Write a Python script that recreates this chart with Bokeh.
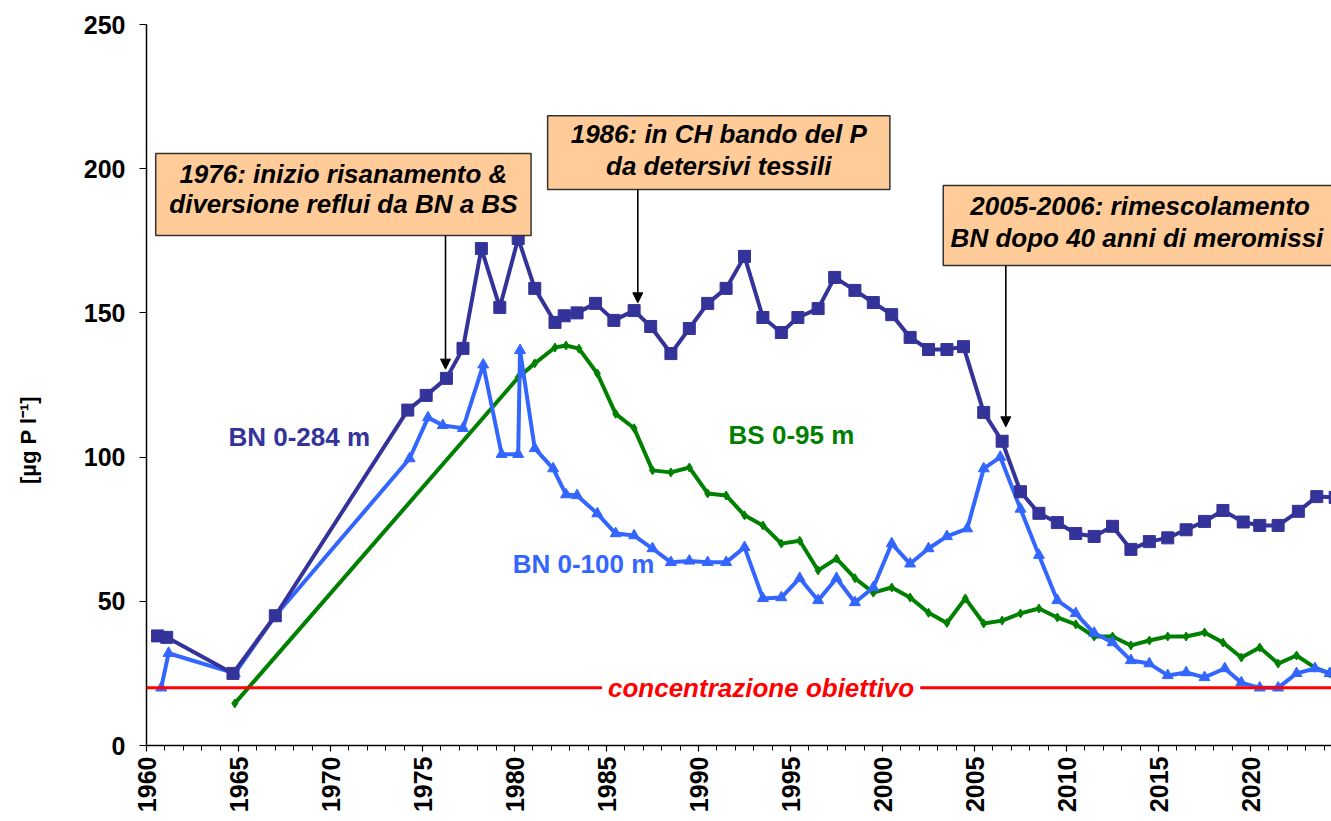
import numpy as np
from bokeh.plotting import figure
from bokeh.models import Range1d, SingleIntervalTicker, Span, Label, Arrow, NormalHead
from bokeh.embed import file_html
from bokeh.resources import INLINE

# ---------------- data ----------------
bn284_year = [1960.6, 1961.1, 1964.7, 1967.0, 1974.2, 1975.2, 1976.3, 1977.2, 1978.2, 1979.2,
              1980.2, 1981.1, 1982.2, 1982.7, 1983.4, 1984.4, 1985.4, 1986.5, 1987.4, 1988.5,
              1989.5, 1990.5, 1991.5, 1992.5, 1993.5, 1994.5, 1995.4, 1996.5, 1997.4, 1998.5,
              1999.5, 2000.5, 2001.5, 2002.5, 2003.5, 2004.4, 2005.5, 2006.5, 2007.5, 2008.5,
              2009.5, 2010.5, 2011.5, 2012.5, 2013.5, 2014.5, 2015.5, 2016.5, 2017.5, 2018.5,
              2019.6, 2020.5, 2021.5, 2022.6, 2023.6, 2024.6]
bn284_val = [38, 37.5, 25, 45, 116.3, 121.4, 127.3, 137.7, 172.3, 151.9,
             175.8, 158.5, 146.7, 149, 150, 153.3, 147.4, 150.8, 145.3, 135.9,
             144.6, 153.3, 158.5, 169.6, 148.4, 143.2, 148.4, 151.5, 162.3, 157.8,
             153.6, 149.4, 141.5, 137.3, 137.3, 138.3, 115.5, 105.5, 88, 80.5,
             77.3, 73.5, 72.5, 76, 68, 70.7, 72, 74.8, 77.7, 81.5,
             77.5, 76.3, 76.3, 81.2, 86.3, 86]

bn100_year = [1960.8, 1961.2, 1964.8, 1967.0, 1974.3, 1975.3, 1976.1, 1977.2, 1978.3, 1979.3,
              1980.2, 1980.3, 1981.1, 1982.1, 1982.8, 1983.4, 1984.5, 1985.5, 1986.5, 1987.5,
              1988.5, 1989.5, 1990.5, 1991.5, 1992.5, 1993.5, 1994.5, 1995.5, 1996.5, 1997.5,
              1998.5, 1999.5, 2000.5, 2001.5, 2002.5, 2003.5, 2004.6, 2005.5, 2006.4, 2007.5,
              2008.5, 2009.5, 2010.5, 2011.5, 2012.5, 2013.5, 2014.5, 2015.5, 2016.5, 2017.5,
              2018.6, 2019.5, 2020.5, 2021.5, 2022.5, 2023.5, 2024.3]
bn100_val = [20, 32, 25, 45, 99.5, 113.7, 111, 110, 132, 101,
             101, 137, 103, 96, 87, 86.7, 80.4, 73.5, 72.8, 68.3,
             63.5, 64, 63.5, 63.5, 68.7, 51, 51.3, 58, 50.3, 58,
             49.6, 54.8, 70, 63, 68.3, 72.5, 75.2, 96, 100, 82,
             66, 50.3, 45.8, 39, 35.7, 29.5, 28.4, 24.3, 25.3, 23.6,
             26.7, 21.8, 20, 20, 25, 26.7, 25]

bs95_year = [1964.8, 1980.2, 1981.1, 1982.2, 1982.8, 1983.5, 1984.5, 1985.5, 1986.5, 1987.5,
             1988.5, 1989.5, 1990.5, 1991.5, 1992.5, 1993.5, 1994.5, 1995.5, 1996.5, 1997.5,
             1998.5, 1999.5, 2000.5, 2001.5, 2002.5, 2003.5, 2004.5, 2005.5, 2006.5, 2007.5,
             2008.5, 2009.5, 2010.5, 2011.5, 2012.5, 2013.5, 2014.5, 2015.5, 2016.5, 2017.5,
             2018.5, 2019.5, 2020.5, 2021.5, 2022.5, 2023.5, 2024.3]
bs95_val = [14.6, 127.6, 132.5, 138, 138.7, 137.6, 129, 115, 110, 95.4,
            94.7, 96.4, 87.4, 86.7, 79.8, 76.3, 70, 71, 60.7, 64.8,
            58, 53, 54.8, 51.3, 46, 42.5, 51, 42.3, 43.3, 45.8,
            47.5, 44.4, 42, 37.8, 37.8, 34.7, 36.4, 37.8, 37.8, 39.2,
            35.7, 30.5, 34, 28.4, 31.2, 27, 25]

target_value = 20
y_ticks_interval = 50

# ---------------- styling ----------------
FONT = "Liberation Sans"
C_BN284 = "#333399"
C_BN100 = "#3366FF"
C_BS = "#008000"
C_RED = "#FF0000"
BOX_FILL = "#FFCC99"

p = figure(width=1331, height=820, output_backend="svg", toolbar_location=None,
           x_range=Range1d(1960, 2024.4), y_range=Range1d(0, 250),
           min_border_left=146, min_border_right=0, min_border_top=24,
           min_border_bottom=75)
p.outline_line_color = None
p.xgrid.grid_line_color = None
p.ygrid.grid_line_color = None
p.background_fill_color = "white"

# axes
p.xaxis.ticker = SingleIntervalTicker(interval=5, num_minor_ticks=5)
p.yaxis.ticker = SingleIntervalTicker(interval=y_ticks_interval, num_minor_ticks=0)
for ax in (p.xaxis, p.yaxis):
    ax.axis_line_color = "black"
    ax.axis_line_width = 1.5
    ax.major_tick_line_color = "black"
    ax.major_tick_line_width = 1.2
    ax.major_label_text_font = FONT
    ax.major_label_text_font_style = "bold"
    ax.major_label_text_font_size = "25px"
    ax.major_label_text_color = "black"
    ax.major_tick_in = 0

p.xaxis.major_label_orientation = np.pi / 2
p.xaxis.major_tick_out = 6
p.xaxis.minor_tick_out = 5
p.xaxis.minor_tick_in = 0
p.xaxis.minor_tick_line_color = "black"
p.xaxis.minor_tick_line_width = 1
p.xaxis.major_label_standoff = 5

p.yaxis.major_tick_out = 7
p.yaxis.minor_tick_line_color = None
p.yaxis.major_label_standoff = 14
# trailing no-break spaces push the visible title a little below the frame centre
p.yaxis.axis_label = "[µg P l\u207b\u00b9]" + "\u00a0" * 18
p.yaxis.axis_label_text_font = FONT
p.yaxis.axis_label_text_font_style = "bold"
p.yaxis.axis_label_text_font_size = "22px"
p.yaxis.axis_label_text_color = "black"
p.yaxis.axis_label_standoff = 40

# target line + label
p.add_layout(Span(location=target_value, dimension="width", line_color=C_RED, line_width=3))
p.add_layout(Label(x=1993.4, y=target_value, text="concentrazione obiettivo",
                   text_align="center", text_baseline="middle",
                   text_font=FONT, text_font_style="bold italic", text_font_size="26px",
                   text_color=C_RED, background_fill_color="white", padding=6))

# series
p.line(bs95_year, bs95_val, line_color=C_BS, line_width=4)
p.scatter(bs95_year, bs95_val, marker="diamond", size=9, color=C_BS)

p.line(bn100_year, bn100_val, line_color=C_BN100, line_width=4)
p.scatter(bn100_year, bn100_val, marker="triangle", size=11, color=C_BN100)

p.line(bn284_year, bn284_val, line_color=C_BN284, line_width=4)
p.scatter(bn284_year, bn284_val, marker="square", size=12, color=C_BN284)

# series labels
def lab(x, y, t, c):
    p.add_layout(Label(x=x, y=y, text=t, text_align="center", text_baseline="middle",
                       text_font=FONT, text_font_style="bold", text_font_size="26px",
                       text_color=c))

lab(1968.3, 106.8, "BN 0-284 m", C_BN284)
lab(1995.05, 107.5, "BS 0-95 m", C_BS)
lab(1983.75, 62.8, "BN 0-100 m", C_BN100)

# annotation boxes
p.quad(left=[1960.5, 1981.8, 2003.3], right=[1980.9, 2000.4, 2030],
       top=[205.3, 218.4, 194.2], bottom=[176.8, 192.8, 166.4],
       fill_color=BOX_FILL, line_color="#333333", line_width=1.5)

def note(x, y, t, align="center"):
    p.add_layout(Label(x=x, y=y, text=t, text_align=align, text_baseline="middle",
                       text_font=FONT, text_font_style="bold italic", text_font_size="26px",
                       text_color="black"))

note(1970.7, 198.0, "1976: inizio risanamento &")
note(1970.7, 187.9, "diversione reflui da BN a BS")
note(1991.1, 212.2, "1986: in CH bando del P")
note(1991.1, 201.1, "da detersivi tessili")
note(2014.0, 187.2, "2005-2006: rimescolamento")
note(2003.7, 176.1, "BN dopo 40 anni di meromissi", align="left")

# arrows
for ax_, ys, ye in [(1976.25, 176.8, 130.5), (1986.7, 192.8, 153.5), (2006.7, 166.4, 110.5)]:
    p.add_layout(Arrow(end=NormalHead(size=10, fill_color="black", line_color="black"),
                       x_start=ax_, y_start=ys, x_end=ax_, y_end=ye,
                       line_color="black", line_width=1.6))

open("out.html", "w").write(file_html(p, INLINE))
